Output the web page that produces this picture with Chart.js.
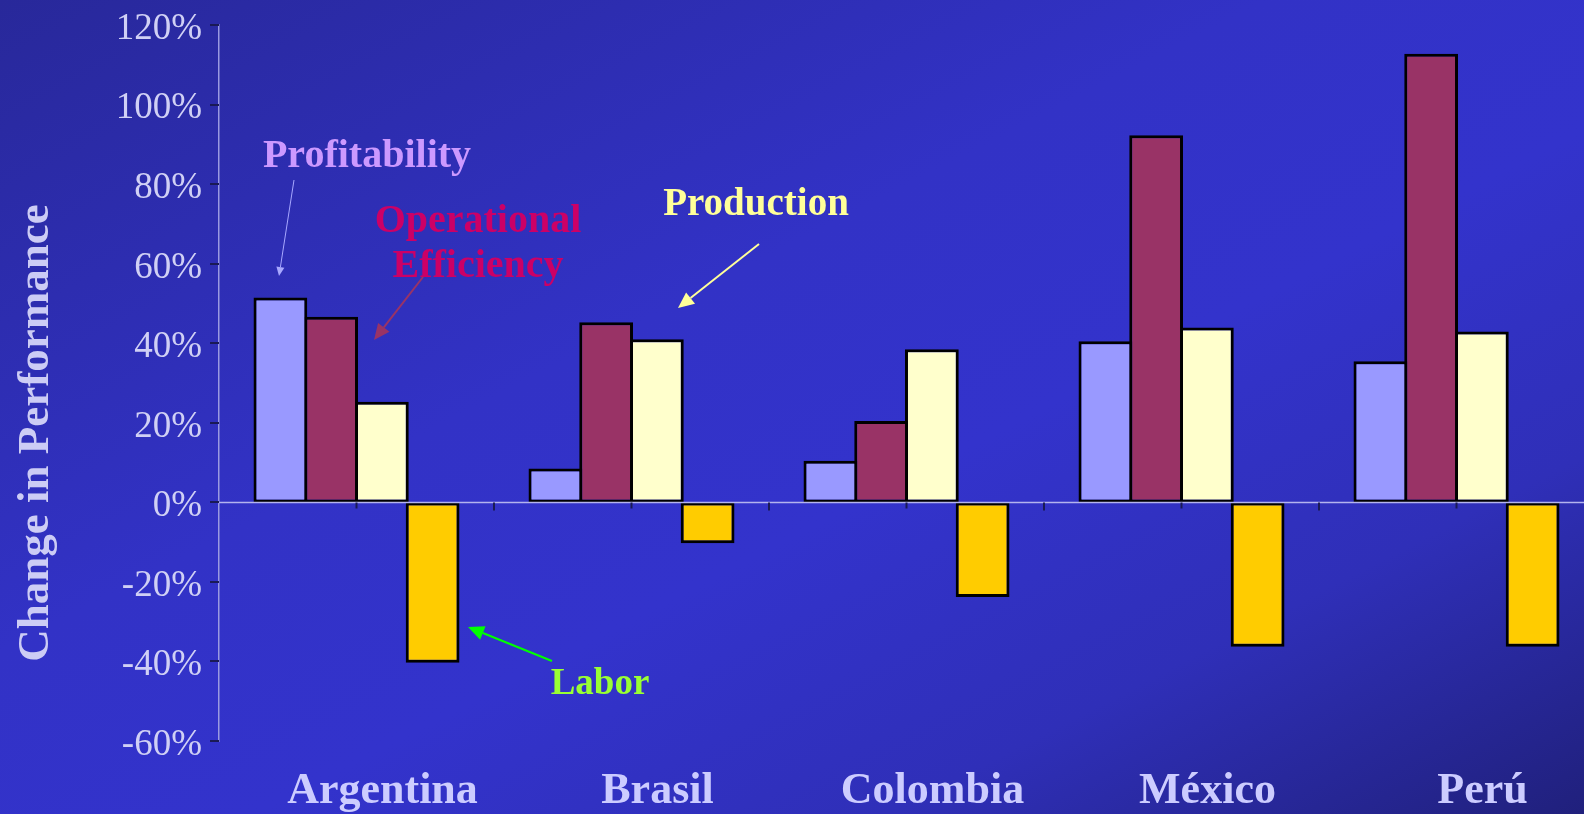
<!DOCTYPE html>
<html>
<head>
<meta charset="utf-8">
<script src="https://cdn.jsdelivr.net/npm/chart.js@4"></script>
<style>
  html, body { margin: 0; padding: 0; overflow: hidden; }
  body {
    width: 1584px; height: 814px;
    background: linear-gradient(to bottom right, #28289a 0%, #3232c6 40%, #3333cc 58%, #2f2fb8 78%, #20207c 100%);
  }
  #wrap { position: absolute; left: 0; top: 0; width: 1600px; height: 814px; }
</style>
</head>
<body>
<div id="wrap"><canvas id="perfChart"></canvas></div>
<script>
// data (percent change)
const categories = ['Argentina', 'Brasil', 'Colombia', 'México', 'Perú'];
const profitability = [51.5, 8.5, 10.5, 40.5, 35.5];
const operationalEfficiency = [46.7, 45.3, 20.5, 92.3, 112.8];
const production = [25.3, 41, 38.5, 44, 43];
const labor = [-40.3, -10.3, -23.8, -36.3, -36.3];
const yMin = -60, yMax = 120, yStep = 20;

// callout texts and arrows (pixel positions)
const callouts = [
  { lines: ['Profitability'], color: '#cc99ff', size: 40, x: 367, y: [167] },
  { lines: ['Operational', 'Efficiency'], color: '#cc0066', size: 40, x: 478, y: [232, 277] },
  { lines: ['Production'], color: '#ffff99', size: 39, x: 756, y: [215] },
  { lines: ['Labor'], color: '#99ff33', size: 37, x: 600, y: [694] }
];
const arrows = [
  { from: [294, 180], to: [279, 276], color: '#a8a8ff', width: 1, head: 9 },
  { from: [423, 277], to: [374, 340], color: '#993366', width: 2, head: 16 },
  { from: [759, 244], to: [678, 308], color: '#ffff99', width: 2, head: 16 },
  { from: [552, 661], to: [468, 627], color: '#00ff00', width: 2, head: 16 }
];

const serif = '"Liberation Serif", "Times New Roman", serif';

function drawArrow(ctx, a) {
  const [x1, y1] = a.from, [x2, y2] = a.to;
  const ang = Math.atan2(y2 - y1, x2 - x1);
  const hw = a.head * 0.45;
  const bx = x2 - Math.cos(ang) * a.head, by = y2 - Math.sin(ang) * a.head;
  ctx.strokeStyle = a.color;
  ctx.fillStyle = a.color;
  ctx.lineWidth = a.width;
  ctx.beginPath();
  ctx.moveTo(x1, y1);
  ctx.lineTo(bx, by);
  ctx.stroke();
  ctx.beginPath();
  ctx.moveTo(x2, y2);
  ctx.lineTo(bx + Math.sin(ang) * hw, by - Math.cos(ang) * hw);
  ctx.lineTo(bx - Math.sin(ang) * hw, by + Math.cos(ang) * hw);
  ctx.closePath();
  ctx.fill();
}

const decor = {
  id: 'decor',
  afterDatasetsDraw(chart) {
    const ctx = chart.ctx;
    const area = chart.chartArea;
    const x = chart.scales.x, y = chart.scales.y;
    const y0 = y.getPixelForValue(0);
    const half = (x.getPixelForValue(1) - x.getPixelForValue(0)) / 2;
    ctx.save();
    // zero line
    ctx.strokeStyle = '#b4b4ee';
    ctx.lineWidth = 1.5;
    ctx.beginPath();
    ctx.moveTo(area.left, y0);
    ctx.lineTo(area.right, y0);
    ctx.stroke();
    // tick marks
    ctx.strokeStyle = '#1a1a55';
    ctx.lineWidth = 2;
    ctx.beginPath();
    for (let v = yMin; v <= yMax; v += yStep) {
      const py = Math.round(y.getPixelForValue(v));
      ctx.moveTo(area.left - 9, py);
      ctx.lineTo(area.left, py);
    }
    categories.forEach((c, i) => {
      const cx = x.getPixelForValue(i);
      ctx.moveTo(cx + half, y0);
      ctx.lineTo(cx + half, y0 + 8);
      ctx.moveTo(cx, y0);
      ctx.lineTo(cx, y0 + 6);
    });
    ctx.stroke();
    // callouts
    ctx.textAlign = 'center';
    ctx.textBaseline = 'alphabetic';
    callouts.forEach(c => {
      ctx.font = 'bold ' + c.size + 'px ' + serif;
      ctx.fillStyle = c.color;
      c.lines.forEach((t, k) => ctx.fillText(t, c.x, c.y[k]));
    });
    arrows.forEach(a => drawArrow(ctx, a));
    // y axis title
    ctx.translate(48, 433);
    ctx.rotate(-Math.PI / 2);
    ctx.fillStyle = '#ccccf5';
    ctx.font = 'bold 45px ' + serif;
    ctx.fillText('Change in Performance', 0, 0);
    ctx.restore();
  }
};

const barBase = {
  borderColor: '#000000',
  borderWidth: 3,
  borderSkipped: false,
  categoryPercentage: 0.738,
  barPercentage: 1.06
};

new Chart(document.getElementById('perfChart').getContext('2d'), {
  type: 'bar',
  data: {
    labels: categories,
    datasets: [
      { ...barBase, label: 'Profitability', data: profitability, backgroundColor: '#9999ff' },
      { ...barBase, label: 'Operational Efficiency', data: operationalEfficiency, backgroundColor: '#993366' },
      { ...barBase, label: 'Production', data: production, backgroundColor: '#ffffcc' },
      { ...barBase, label: 'Labor', data: labor, backgroundColor: '#ffcc00' }
    ]
  },
  options: {
    responsive: true,
    maintainAspectRatio: false,
    animation: false,
    layout: { padding: { top: 0, right: 6, bottom: 0, left: 0 } },
    plugins: {
      legend: { display: false },
      tooltip: { enabled: false }
    },
    scales: {
      x: {
        grid: { display: false },
        border: { display: false },
        ticks: {
          color: '#ccccff',
          font: { family: serif, size: 44, weight: 'bold' },
          labelOffset: 26,
          padding: 16,
          maxRotation: 0
        },
        afterFit(scale) { scale.height = 73; }
      },
      y: {
        min: yMin,
        max: yMax,
        grid: { display: false, tickLength: 14 },
        border: { color: '#9a9ae0', width: 1.5 },
        ticks: {
          stepSize: yStep,
          color: '#d0d0f5',
          font: { family: serif, size: 37 },
          padding: 3,
          labelOffset: 4,
          callback: v => v + '%'
        },
        afterFit(scale) { scale.width = 219; }
      }
    }
  },
  plugins: [decor]
});
</script>
</body>
</html>
